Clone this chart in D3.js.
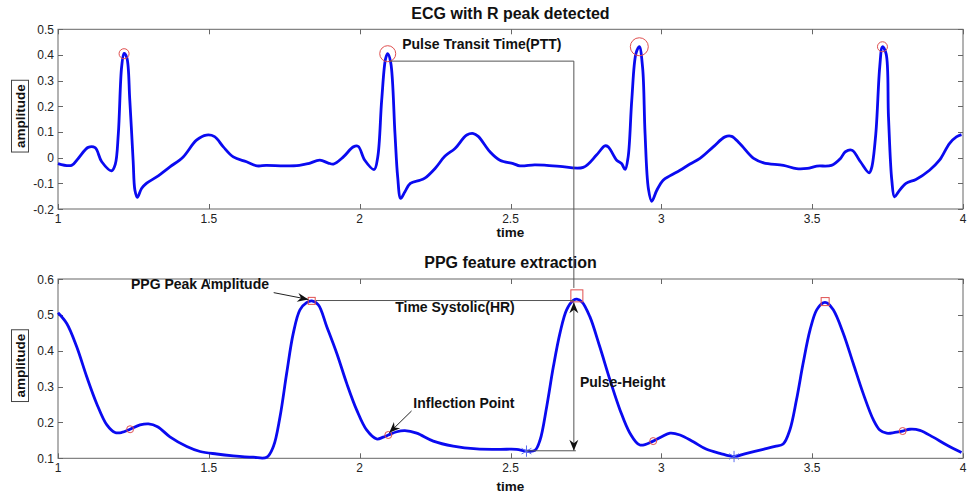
<!DOCTYPE html>
<html>
<head>
<meta charset="utf-8">
<script src="https://cdn.jsdelivr.net/npm/d3@7"></script>
<style>
  body { margin: 0; background: #fff; }
  svg { display: block; font-family: "Liberation Sans", Arial, sans-serif; }
  .frame { fill: none; stroke: #666; stroke-width: 1; }
  .tick-lbl { font-size: 12px; fill: #222; }
  .title { font-size: 16px; font-weight: bold; fill: #111; }
  .note { font-size: 14px; font-weight: bold; fill: #111; }
  .axis-lbl { font-size: 13.5px; font-weight: bold; fill: #111; }
</style>
</head>
<body>
<svg id="chart"></svg>
<script>
// ECG trace (time, amplitude)
const ecgTime = [1.0, 1.045, 1.067, 1.10, 1.123, 1.145, 1.178, 1.19, 1.20, 1.211, 1.219, 1.228, 1.238, 1.249, 1.255, 1.263, 1.277, 1.293, 1.327, 1.371, 1.415, 1.459, 1.492, 1.519, 1.548, 1.581, 1.625, 1.66, 1.69, 1.75, 1.80, 1.83, 1.868, 1.896, 1.913, 1.946, 1.979, 1.995, 2.017, 2.048, 2.06, 2.073, 2.086, 2.093, 2.103, 2.117, 2.126, 2.136, 2.15, 2.168, 2.20, 2.216, 2.25, 2.283, 2.316, 2.355, 2.377, 2.393, 2.432, 2.465, 2.509, 2.531, 2.58, 2.62, 2.664, 2.741, 2.785, 2.813, 2.824, 2.852, 2.868, 2.88, 2.89, 2.902, 2.916, 2.927, 2.938, 2.946, 2.957, 2.968, 2.985, 3.006, 3.028, 3.062, 3.095, 3.128, 3.172, 3.211, 3.233, 3.26, 3.306, 3.339, 3.405, 3.448, 3.484, 3.515, 3.564, 3.594, 3.61, 3.632, 3.66, 3.689, 3.697, 3.711, 3.724, 3.733, 3.745, 3.753, 3.764, 3.773, 3.786, 3.811, 3.844, 3.889, 3.922, 3.955, 3.978, 3.995];
const ecgAmp = [-0.023, -0.03, -0.003, 0.04, 0.039, -0.016, -0.051, -0.025, 0.094, 0.354, 0.406, 0.39, 0.224, -0.01, -0.127, -0.155, -0.12, -0.10, -0.075, -0.036, 0.003, 0.068, 0.088, 0.082, 0.042, 0.003, -0.016, -0.032, -0.03, -0.032, -0.03, -0.023, -0.01, -0.021, -0.025, 0.003, 0.042, 0.044, -0.01, -0.046, 0.003, 0.224, 0.386, 0.405, 0.37, 0.094, -0.075, -0.159, -0.133, -0.10, -0.088, -0.08, -0.042, 0.006, 0.036, 0.088, 0.094, 0.083, 0.023, -0.01, -0.023, -0.032, -0.028, -0.03, -0.034, -0.038, 0.01, 0.046, 0.042, -0.01, -0.023, -0.046, 0.003, 0.224, 0.406, 0.432, 0.35, 0.095, -0.12, -0.17, -0.127, -0.088, -0.071, -0.049, -0.025, -0.003, 0.042, 0.081, 0.083, 0.055, -0.003, -0.02, -0.03, -0.043, -0.042, -0.033, -0.03, -0.003, 0.023, 0.029, -0.016, -0.059, -0.04, 0.094, 0.354, 0.432, 0.405, 0.159, -0.088, -0.153, -0.133, -0.10, -0.085, -0.049, -0.01, 0.055, 0.081, 0.09];

// detected R peaks (circle radius differs per peak in the original)
const rPeakTime = [1.219, 2.093, 2.927, 3.733];
const rPeakAmp = [0.405, 0.405, 0.432, 0.432];
const rPeakSize = [5, 8, 9, 5];

// PPG trace
const ppgTime = [1.0, 1.029, 1.062, 1.095, 1.128, 1.162, 1.189, 1.211, 1.239, 1.272, 1.30, 1.33, 1.371, 1.427, 1.471, 1.526, 1.581, 1.647, 1.692, 1.714, 1.736, 1.758, 1.78, 1.802, 1.824, 1.841, 1.863, 1.891, 1.924, 1.957, 1.99, 2.023, 2.056, 2.078, 2.095, 2.123, 2.15, 2.189, 2.244, 2.31, 2.388, 2.465, 2.52, 2.553, 2.581, 2.598, 2.62, 2.642, 2.664, 2.686, 2.709, 2.72, 2.737, 2.763, 2.796, 2.83, 2.863, 2.896, 2.929, 2.973, 3.001, 3.029, 3.062, 3.106, 3.15, 3.194, 3.241, 3.283, 3.338, 3.377, 3.404, 3.426, 3.448, 3.47, 3.493, 3.515, 3.537, 3.548, 3.57, 3.603, 3.636, 3.669, 3.703, 3.724, 3.747, 3.774, 3.8, 3.824, 3.857, 3.901, 3.946, 3.995];
const ppgAmp = [0.506, 0.476, 0.411, 0.328, 0.253, 0.193, 0.172, 0.172, 0.181, 0.193, 0.196, 0.188, 0.160, 0.133, 0.119, 0.112, 0.107, 0.103, 0.103, 0.133, 0.216, 0.337, 0.449, 0.514, 0.534, 0.539, 0.528, 0.467, 0.393, 0.309, 0.235, 0.179, 0.154, 0.159, 0.165, 0.174, 0.177, 0.170, 0.148, 0.134, 0.126, 0.125, 0.125, 0.12, 0.122, 0.151, 0.244, 0.355, 0.449, 0.514, 0.541, 0.544, 0.536, 0.495, 0.411, 0.318, 0.235, 0.170, 0.137, 0.148, 0.160, 0.170, 0.165, 0.146, 0.125, 0.114, 0.105, 0.114, 0.125, 0.133, 0.14, 0.179, 0.263, 0.365, 0.458, 0.514, 0.534, 0.534, 0.514, 0.449, 0.365, 0.281, 0.207, 0.179, 0.170, 0.172, 0.176, 0.181, 0.178, 0.159, 0.137, 0.116];

// PPG features
const ppgPeakTime = [1.841, 2.72, 3.543];
const ppgPeakAmp = [0.539, 0.553, 0.537];
const ppgPeakSize = [7, 12, 8];
const inflTime = [1.239, 2.095, 2.973, 3.80];
const inflAmp = [0.181, 0.165, 0.148, 0.176];
const footTime = [2.553, 3.241];
const footAmp = [0.12, 0.105];

// annotation anchors
const pttStart = 2.10, pttEnd = 2.71, pttLevel = 0.376;
const systolicStart = 1.855, systolicLevel = 0.54;
const pulseBase = 0.121;

const xTicks = [1, 1.5, 2, 2.5, 3, 3.5, 4];
const ecgTicks = [0.5, 0.4, 0.3, 0.2, 0.1, 0, -0.1, -0.2];
const ppgTicks = [0.6, 0.5, 0.4, 0.3, 0.2, 0.1];

const width = 973, height = 494;
const svg = d3.select('#chart').attr('width', width).attr('height', height);

const x = d3.scaleLinear().domain([1, 4]).range([58, 963]);
const yEcg = d3.scaleLinear().domain([-0.2, 0.5]).range([209, 29.3]);
const yPpg = d3.scaleLinear().domain([0.1, 0.6]).range([458.3, 279]);

const fmt = v => String(+v.toFixed(2));

// arrow head, MATLAB style
const defs = svg.append('defs');
defs.append('marker')
  .attr('id', 'arr')
  .attr('viewBox', '-12 -6 14 12')
  .attr('refX', 0).attr('refY', 0)
  .attr('markerWidth', 14).attr('markerHeight', 12)
  .attr('markerUnits', 'userSpaceOnUse')
  .attr('orient', 'auto-start-reverse')
  .append('path')
  .attr('d', 'M0,0 L-11,-4.5 L-7.5,0 L-11,4.5 Z')
  .attr('fill', '#111');

/**
 * Draws a boxed MATLAB-like axes with inward ticks on all sides
 */
function drawFrame(y, yTicks, title, titleY, timeY) {
  const g = svg.append('g');
  const [x0, x1] = x.range();
  const [y0, y1] = y.range();
  g.append('rect').attr('class', 'frame')
    .attr('x', x0).attr('y', y1).attr('width', x1 - x0).attr('height', y0 - y1);

  const tl = 5;
  xTicks.forEach(t => {
    const px = Math.round(x(t)) + 0.5;
    g.append('line').attr('x1', px).attr('x2', px).attr('y1', y0).attr('y2', y0 - tl).attr('stroke', '#666');
    g.append('line').attr('x1', px).attr('x2', px).attr('y1', y1).attr('y2', y1 + tl).attr('stroke', '#666');
    g.append('text').attr('class', 'tick-lbl').attr('x', x(t)).attr('y', y0 + 14)
      .attr('text-anchor', 'middle').text(fmt(t));
  });
  yTicks.forEach(t => {
    const py = Math.round(y(t)) + 0.5;
    g.append('line').attr('x1', x0).attr('x2', x0 + tl).attr('y1', py).attr('y2', py).attr('stroke', '#666');
    g.append('line').attr('x1', x1).attr('x2', x1 - tl).attr('y1', py).attr('y2', py).attr('stroke', '#666');
    g.append('text').attr('class', 'tick-lbl').attr('x', x0 - 4).attr('y', y(t) + 4.5)
      .attr('text-anchor', 'end').text(fmt(t));
  });

  g.append('text').attr('class', 'title').attr('x', (x0 + x1) / 2).attr('y', titleY)
    .attr('text-anchor', 'middle').text(title);
  g.append('text').attr('class', 'axis-lbl').attr('x', (x0 + x1) / 2).attr('y', timeY)
    .attr('text-anchor', 'middle').text('time');

  // boxed y label
  const cy = (y0 + y1) / 2 - 3;
  const lbl = g.append('text').attr('class', 'axis-lbl')
    .attr('transform', `translate(24.5,${cy}) rotate(-90)`)
    .attr('text-anchor', 'middle').text('amplitude');
  const w = lbl.node().getComputedTextLength();
  g.insert('rect', 'text')
    .attr('x', 11.5).attr('y', cy - w / 2 - 4).attr('width', 17).attr('height', w + 8)
    .attr('fill', '#fff').attr('stroke', '#444');
}

drawFrame(yEcg, ecgTicks, 'ECG with R peak detected', 19, 237);
drawFrame(yPpg, ppgTicks, 'PPG feature extraction', 268, 491);

// traces
const ecgLine = d3.line().x(i => x(ecgTime[i])).y(i => yEcg(ecgAmp[i])).curve(d3.curveCatmullRom.alpha(0.5));
svg.append('path').attr('d', ecgLine(d3.range(ecgTime.length)))
  .attr('fill', 'none').attr('stroke', '#0a0af0').attr('stroke-width', 2.8).attr('stroke-linejoin', 'round');

const ppgLine = d3.line().x(i => x(ppgTime[i])).y(i => yPpg(ppgAmp[i])).curve(d3.curveCatmullRom.alpha(0.5));
svg.append('path').attr('d', ppgLine(d3.range(ppgTime.length)))
  .attr('fill', 'none').attr('stroke', '#0a0af0').attr('stroke-width', 2.8).attr('stroke-linejoin', 'round');

// R peak markers
svg.append('g').selectAll('circle').data(d3.range(rPeakTime.length)).enter().append('circle')
  .attr('cx', i => x(rPeakTime[i])).attr('cy', i => yEcg(rPeakAmp[i]))
  .attr('r', i => rPeakSize[i])
  .attr('fill', 'none').attr('stroke', '#e05050').attr('stroke-width', 1);

// PPG peaks (squares)
svg.append('g').selectAll('rect').data(d3.range(ppgPeakTime.length)).enter().append('rect')
  .attr('x', i => x(ppgPeakTime[i]) - ppgPeakSize[i] / 2)
  .attr('y', i => yPpg(ppgPeakAmp[i]) - ppgPeakSize[i] / 2)
  .attr('width', i => ppgPeakSize[i]).attr('height', i => ppgPeakSize[i])
  .attr('fill', 'none').attr('stroke', '#e05050').attr('stroke-width', 1);

// inflection points
svg.append('g').selectAll('circle').data(d3.range(inflTime.length)).enter().append('circle')
  .attr('cx', i => x(inflTime[i])).attr('cy', i => yPpg(inflAmp[i])).attr('r', 3.5)
  .attr('fill', 'none').attr('stroke', '#e05050').attr('stroke-width', 1);

// pulse feet (asterisks)
const star = d3.symbol().type(d3.symbolAsterisk).size(90);
svg.append('g').selectAll('path').data(d3.range(footTime.length)).enter().append('path')
  .attr('d', star)
  .attr('transform', i => `translate(${x(footTime[i])},${yPpg(footAmp[i])})`)
  .attr('fill', 'none').attr('stroke', '#5a6cf0').attr('stroke-width', 1);

// annotations
const ann = svg.append('g').attr('fill', 'none').attr('stroke', '#555').attr('stroke-width', 1);

// PTT: from R peak across, then down to PPG peak
ann.append('path').attr('d', d3.line()([
  [x(pttStart), yEcg(pttLevel)],
  [x(pttEnd), yEcg(pttLevel)],
  [x(pttEnd), yPpg(0.575)]
]));
svg.append('text').attr('class', 'note').attr('x', x(2.405)).attr('y', yEcg(0.425))
  .attr('text-anchor', 'middle').text('Pulse Transit Time(PTT)');

// time systolic line
ann.append('line')
  .attr('x1', x(systolicStart)).attr('x2', x(pttEnd))
  .attr('y1', yPpg(systolicLevel)).attr('y2', yPpg(systolicLevel));
svg.append('text').attr('class', 'note').attr('x', x(2.316)).attr('y', yPpg(0.508))
  .attr('text-anchor', 'middle').text('Time Systolic(HR)');

// pulse height double arrow
ann.append('line')
  .attr('x1', x(pttEnd)).attr('x2', x(pttEnd))
  .attr('y1', yPpg(pulseBase)).attr('y2', yPpg(0.535))
  .attr('marker-end', 'url(#arr)').attr('marker-start', 'url(#arr)');
ann.append('line')
  .attr('x1', x(footTime[0])).attr('x2', x(pttEnd) + 2)
  .attr('y1', yPpg(pulseBase)).attr('y2', yPpg(pulseBase));
svg.append('text').attr('class', 'note').attr('x', x(2.73)).attr('y', yPpg(0.3))
  .text('Pulse-Height');

// PPG peak amplitude arrow
svg.append('text').attr('class', 'note').attr('x', x(1.242)).attr('y', yPpg(0.573))
  .text('PPG Peak Amplitude');
svg.append('line')
  .attr('x1', x(1.715)).attr('y1', yPpg(0.562))
  .attr('x2', x(1.83)).attr('y2', yPpg(0.543))
  .attr('stroke', '#222').attr('marker-end', 'url(#arr)');

// inflection arrow
svg.append('text').attr('class', 'note').attr('x', x(2.178)).attr('y', yPpg(0.24))
  .text('Inflection Point');
svg.append('line')
  .attr('x1', x(2.172)).attr('y1', yPpg(0.232))
  .attr('x2', x(2.098)).attr('y2', yPpg(0.171))
  .attr('stroke', '#222').attr('marker-end', 'url(#arr)');
</script>
</body>
</html>
